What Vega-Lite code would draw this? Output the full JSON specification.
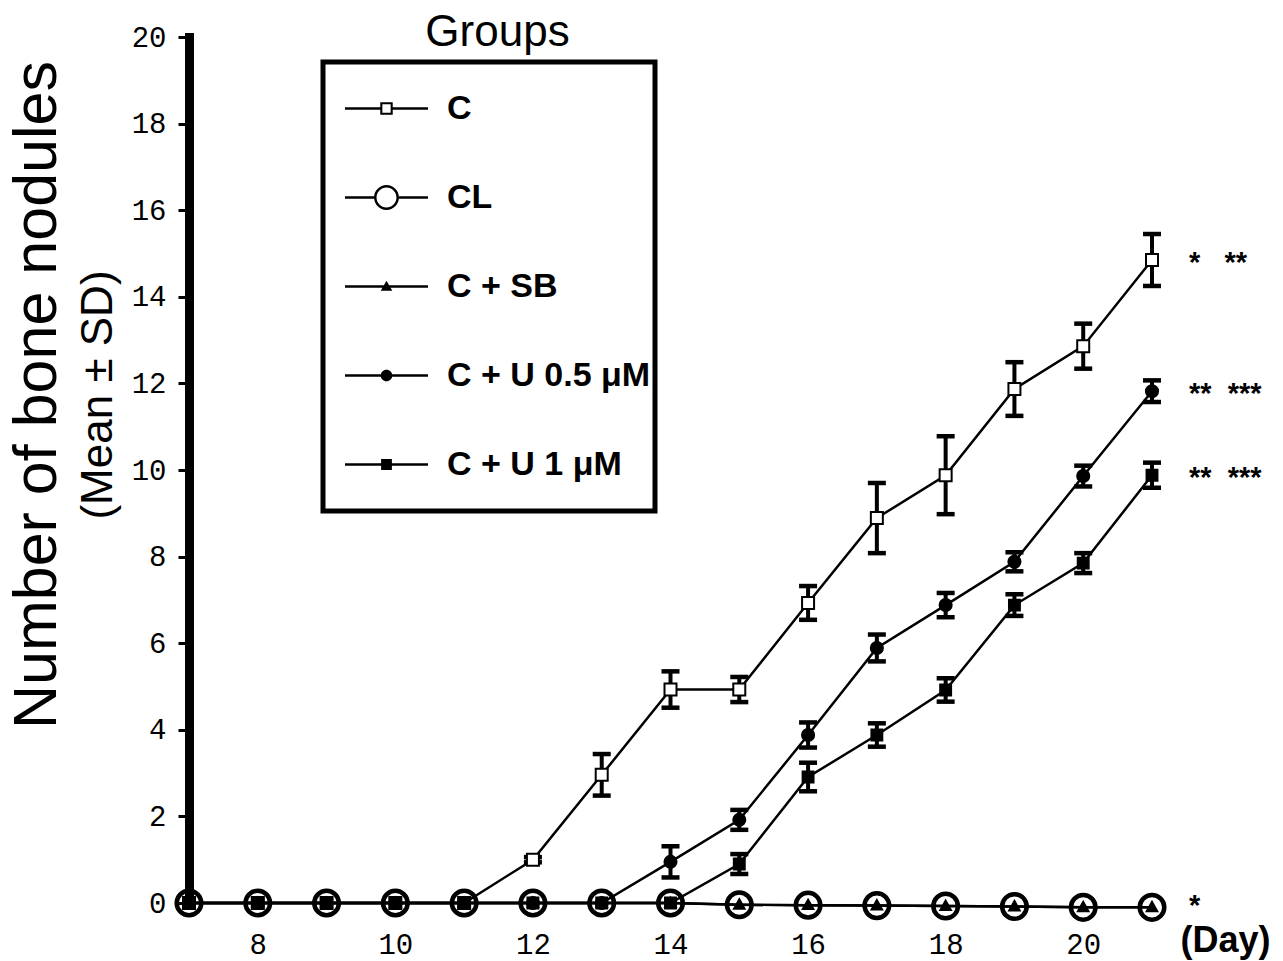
{
  "$schema": "https://vega.github.io/schema/vega-lite/v6.json",
  "width": 963,
  "height": 866,
  "autosize": {"type": "none"},
  "padding": {"left": 189, "top": 37, "right": 131, "bottom": 58},
  "background": "white",
  "config": {"view": {"stroke": null}, "font": "Liberation Sans", "legend": {"strokeWidth": 5}},
  "title": {
    "text": "Number of bone nodules",
    "subtitle": "(Mean ± SD)",
    "orient": "left",
    "anchor": "middle",
    "frame": "group",
    "font": "Liberation Sans",
    "fontSize": 61,
    "fontWeight": "normal",
    "color": "black",
    "subtitleFont": "Liberation Sans",
    "subtitleFontSize": 44,
    "subtitleColor": "black",
    "subtitlePadding": 8,
    "offset": 9,
    "dx": 75
  },
  "datasets": {
    "series": [
      {"g": "C", "day": 7, "mean": 0, "sd": 0},
      {"g": "C", "day": 8, "mean": 0, "sd": 0},
      {"g": "C", "day": 9, "mean": 0, "sd": 0},
      {"g": "C", "day": 10, "mean": 0, "sd": 0},
      {"g": "C", "day": 11, "mean": 0, "sd": 0},
      {"g": "C", "day": 12, "mean": 1.0, "sd": 0.06},
      {"g": "C", "day": 13, "mean": 2.96, "sd": 0.48},
      {"g": "C", "day": 14, "mean": 4.93, "sd": 0.42},
      {"g": "C", "day": 15, "mean": 4.93, "sd": 0.29},
      {"g": "C", "day": 16, "mean": 6.93, "sd": 0.39},
      {"g": "C", "day": 17, "mean": 8.89, "sd": 0.81},
      {"g": "C", "day": 18, "mean": 9.88, "sd": 0.9},
      {"g": "C", "day": 19, "mean": 11.87, "sd": 0.62},
      {"g": "C", "day": 20, "mean": 12.86, "sd": 0.52},
      {"g": "C", "day": 21, "mean": 14.85, "sd": 0.6},
      {"g": "CL", "day": 7, "mean": 0, "sd": 0},
      {"g": "CL", "day": 8, "mean": 0, "sd": 0},
      {"g": "CL", "day": 9, "mean": 0, "sd": 0},
      {"g": "CL", "day": 10, "mean": 0, "sd": 0},
      {"g": "CL", "day": 11, "mean": 0, "sd": 0},
      {"g": "CL", "day": 12, "mean": 0, "sd": 0},
      {"g": "CL", "day": 13, "mean": 0, "sd": 0},
      {"g": "CL", "day": 14, "mean": 0, "sd": 0},
      {"g": "CL", "day": 15, "mean": -0.04, "sd": 0},
      {"g": "CL", "day": 16, "mean": -0.05, "sd": 0},
      {"g": "CL", "day": 17, "mean": -0.06, "sd": 0},
      {"g": "CL", "day": 18, "mean": -0.07, "sd": 0},
      {"g": "CL", "day": 19, "mean": -0.08, "sd": 0},
      {"g": "CL", "day": 20, "mean": -0.1, "sd": 0},
      {"g": "CL", "day": 21, "mean": -0.1, "sd": 0},
      {"g": "C + SB", "day": 7, "mean": 0, "sd": 0},
      {"g": "C + SB", "day": 8, "mean": 0, "sd": 0},
      {"g": "C + SB", "day": 9, "mean": 0, "sd": 0},
      {"g": "C + SB", "day": 10, "mean": 0, "sd": 0},
      {"g": "C + SB", "day": 11, "mean": 0, "sd": 0},
      {"g": "C + SB", "day": 12, "mean": 0, "sd": 0},
      {"g": "C + SB", "day": 13, "mean": 0, "sd": 0},
      {"g": "C + SB", "day": 14, "mean": 0, "sd": 0},
      {"g": "C + SB", "day": 15, "mean": -0.04, "sd": 0},
      {"g": "C + SB", "day": 16, "mean": -0.05, "sd": 0},
      {"g": "C + SB", "day": 17, "mean": -0.06, "sd": 0},
      {"g": "C + SB", "day": 18, "mean": -0.07, "sd": 0},
      {"g": "C + SB", "day": 19, "mean": -0.08, "sd": 0},
      {"g": "C + SB", "day": 20, "mean": -0.1, "sd": 0},
      {"g": "C + SB", "day": 21, "mean": -0.1, "sd": 0},
      {"g": "C + U 0.5 μM", "day": 7, "mean": 0, "sd": 0},
      {"g": "C + U 0.5 μM", "day": 8, "mean": 0, "sd": 0},
      {"g": "C + U 0.5 μM", "day": 9, "mean": 0, "sd": 0},
      {"g": "C + U 0.5 μM", "day": 10, "mean": 0, "sd": 0},
      {"g": "C + U 0.5 μM", "day": 11, "mean": 0, "sd": 0},
      {"g": "C + U 0.5 μM", "day": 12, "mean": 0, "sd": 0},
      {"g": "C + U 0.5 μM", "day": 13, "mean": 0, "sd": 0},
      {"g": "C + U 0.5 μM", "day": 14, "mean": 0.95, "sd": 0.36},
      {"g": "C + U 0.5 μM", "day": 15, "mean": 1.92, "sd": 0.23},
      {"g": "C + U 0.5 μM", "day": 16, "mean": 3.88, "sd": 0.29},
      {"g": "C + U 0.5 μM", "day": 17, "mean": 5.89, "sd": 0.31},
      {"g": "C + U 0.5 μM", "day": 18, "mean": 6.88, "sd": 0.28},
      {"g": "C + U 0.5 μM", "day": 19, "mean": 7.88, "sd": 0.22},
      {"g": "C + U 0.5 μM", "day": 20, "mean": 9.86, "sd": 0.24},
      {"g": "C + U 0.5 μM", "day": 21, "mean": 11.82, "sd": 0.25},
      {"g": "C + U 1 μM", "day": 7, "mean": 0, "sd": 0},
      {"g": "C + U 1 μM", "day": 8, "mean": 0, "sd": 0},
      {"g": "C + U 1 μM", "day": 9, "mean": 0, "sd": 0},
      {"g": "C + U 1 μM", "day": 10, "mean": 0, "sd": 0},
      {"g": "C + U 1 μM", "day": 11, "mean": 0, "sd": 0},
      {"g": "C + U 1 μM", "day": 12, "mean": 0, "sd": 0},
      {"g": "C + U 1 μM", "day": 13, "mean": 0, "sd": 0},
      {"g": "C + U 1 μM", "day": 14, "mean": 0, "sd": 0},
      {"g": "C + U 1 μM", "day": 15, "mean": 0.9, "sd": 0.23},
      {"g": "C + U 1 μM", "day": 16, "mean": 2.91, "sd": 0.33},
      {"g": "C + U 1 μM", "day": 17, "mean": 3.88, "sd": 0.27},
      {"g": "C + U 1 μM", "day": 18, "mean": 4.92, "sd": 0.27},
      {"g": "C + U 1 μM", "day": 19, "mean": 6.88, "sd": 0.25},
      {"g": "C + U 1 μM", "day": 20, "mean": 7.85, "sd": 0.23},
      {"g": "C + U 1 μM", "day": 21, "mean": 9.88, "sd": 0.29}
    ],
    "notes": [
      {"day": 21, "mean": 14.85, "label": "*\u00a0\u00a0\u00a0**"},
      {"day": 21, "mean": 11.82, "label": "**\u00a0\u00a0***"},
      {"day": 21, "mean": 9.88, "label": "**\u00a0\u00a0***"},
      {"day": 21, "mean": 0, "label": "*"}
    ]
  },
  "encoding": {
    "x": {
      "field": "day",
      "type": "quantitative",
      "scale": {"domain": [7, 21], "nice": false, "zero": false},
      "axis": {
        "values": [8, 10, 12, 14, 16, 18, 20],
        "domain": false,
        "ticks": false,
        "grid": false,
        "labelFont": "Liberation Mono",
        "labelFontSize": 29,
        "labelColor": "black",
        "labelPadding": 27,
        "title": "(Day)",
        "titleFont": "Liberation Sans",
        "titleFontSize": 36,
        "titleFontWeight": "bold",
        "titleColor": "black",
        "titleX": 1081,
        "titleY": 48,
        "titleAlign": "right",
        "titleBaseline": "alphabetic",
        "titleAnchor": null
      }
    },
    "y": {
      "field": "mean",
      "type": "quantitative",
      "scale": {"domain": [0, 20], "nice": false},
      "axis": {
        "values": [0, 2, 4, 6, 8, 10, 12, 14, 16, 18, 20],
        "grid": false,
        "domainColor": "black",
        "domainWidth": 9,
        "domainCap": "square",
        "tickColor": "black",
        "tickWidth": 3,
        "tickSize": 11,
        "labelFont": "Liberation Mono",
        "labelFontSize": 29,
        "labelColor": "black",
        "labelPadding": 12,
        "title": "Groups",
        "titleFont": "Liberation Sans",
        "titleFontSize": 44,
        "titleFontWeight": "normal",
        "titleColor": "black",
        "titleAngle": 0,
        "titleX": 308,
        "titleY": 8,
        "titleAlign": "center",
        "titleBaseline": "alphabetic"
      }
    }
  },
  "layer": [
    {
      "data": {"name": "series"},
      "mark": {"type": "line", "color": "black", "strokeWidth": 2.5},
      "encoding": {"detail": {"field": "g", "type": "nominal"}}
    },
    {
      "data": {"name": "series"},
      "transform": [{"filter": "datum.sd > 0"}],
      "mark": {
        "type": "errorbar",
        "color": "black",
        "opacity": 1,
        "ticks": {"size": 18, "thickness": 4.5, "color": "black", "opacity": 1},
        "rule": {"strokeWidth": 4, "color": "black", "opacity": 1}
      },
      "encoding": {"yError": {"field": "sd"}}
    },
    {
      "data": {"name": "series"},
      "transform": [{"filter": "datum.g === 'C'"}],
      "mark": {"type": "point", "shape": "M-0.4,-0.4H0.4V0.4H-0.4Z", "filled": true, "fill": "white", "stroke": "black", "strokeWidth": 2, "size": 900, "opacity": 1}
    },
    {
      "data": {"name": "series"},
      "transform": [{"filter": "datum.g === 'CL'"}],
      "mark": {"type": "point", "shape": "M-0.92,0A0.92,0.92 0 1,1 0.92,0A0.92,0.92 0 1,1 -0.92,0ZM-0.72,0A0.72,0.72 0 1,0 0.72,0A0.72,0.72 0 1,0 -0.72,0Z", "filled": true, "fill": "black", "stroke": "black", "strokeWidth": 1.5, "size": 900, "opacity": 1}
    },
    {
      "data": {"name": "series"},
      "transform": [{"filter": "datum.g === 'C + SB'"}],
      "mark": {"type": "point", "shape": "M0,-0.4L0.38,0.28H-0.38Z", "filled": true, "fill": "black", "stroke": "black", "strokeWidth": 1.5, "size": 900, "opacity": 1}
    },
    {
      "data": {"name": "series"},
      "transform": [{"filter": "datum.g === 'C + U 0.5 μM'"}],
      "mark": {"type": "point", "shape": "M-0.42,0A0.42,0.42 0 1,0 0.42,0A0.42,0.42 0 1,0 -0.42,0Z", "filled": true, "fill": "black", "stroke": "black", "strokeWidth": 1.5, "size": 900, "opacity": 1}
    },
    {
      "data": {"name": "series"},
      "transform": [{"filter": "datum.g === 'C + U 1 μM'"}],
      "mark": {"type": "point", "shape": "M-0.38,-0.38H0.38V0.38H-0.38Z", "filled": true, "fill": "black", "stroke": "black", "strokeWidth": 1.5, "size": 900, "opacity": 1}
    },
    {
      "data": {"name": "series"},
      "transform": [{"filter": "datum.day < 0"}],
      "mark": {"type": "point", "filled": true, "color": "black", "opacity": 1},
      "encoding": {
        "shape": {
          "field": "g",
          "type": "nominal",
          "scale": {
            "domain": ["C", "CL", "C + SB", "C + U 0.5 μM", "C + U 1 μM"],
            "range": [
              "M-1,-0.03H-0.15V0.03H-1ZM0.15,-0.03H1V0.03H0.15ZM-0.15,-0.15H0.15V0.15H-0.15ZM-0.1,-0.1V0.1H0.1V-0.1Z",
              "M-1,-0.03H-0.3V0.03H-1ZM0.3,-0.03H1V0.03H0.3ZM-0.3,0A0.3,0.3 0 1,1 0.3,0A0.3,0.3 0 1,1 -0.3,0ZM-0.24,0A0.24,0.24 0 1,0 0.24,0A0.24,0.24 0 1,0 -0.24,0Z",
              "M-1,-0.03H1V0.03H-1ZM0,-0.14L0.14,0.1H-0.14Z",
              "M-1,-0.03H1V0.03H-1ZM-0.14,0A0.14,0.14 0 1,1 0.14,0A0.14,0.14 0 1,1 -0.14,0Z",
              "M-1,-0.03H1V0.03H-1ZM-0.13,-0.13H0.13V0.13H-0.13Z"
            ]
          },
          "legend": {
            "title": null,
            "orient": "none",
            "legendX": 134,
            "legendY": 25,
            "padding": 4,
            "strokeColor": "black",
            "labelFont": "Liberation Sans",
            "labelFontWeight": "bold",
            "labelFontSize": 34,
            "labelColor": "black",
            "labelOffset": 19,
            "labelLimit": 500,
            "labelExpr": "datum.label + '\u00a0\u00a0\u00a0'",
            "symbolSize": 6889,
            "symbolStrokeWidth": 0,
            "symbolFillColor": "black",
            "symbolOpacity": 1,
            "symbolOffset": 18,
            "clipHeight": 85,
            "rowPadding": 4
          }
        }
      }
    },
    {
      "data": {"name": "notes"},
      "mark": {"type": "text", "align": "left", "baseline": "middle", "dx": 37, "dy": 3, "font": "Liberation Sans", "fontWeight": "bold", "fontSize": 29, "color": "black"},
      "encoding": {"text": {"field": "label"}}
    }
  ]
}
